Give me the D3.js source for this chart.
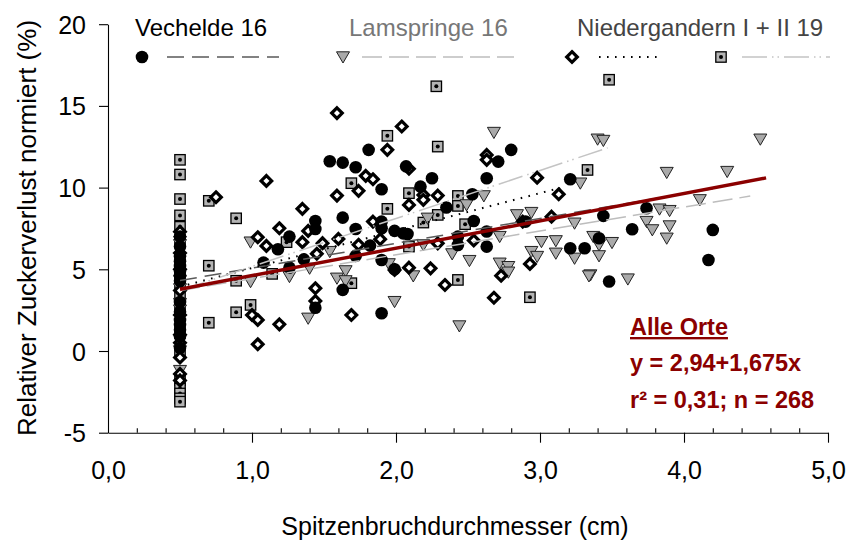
<!DOCTYPE html>
<html>
<head>
<meta charset="utf-8">
<script src="https://cdn.jsdelivr.net/npm/d3@7"></script>
<style>
  html, body { margin: 0; padding: 0; background: #fff; }
  svg { display: block; font-family: "Liberation Sans", Arial, sans-serif; }
</style>
</head>
<body>
<svg id="chart" width="853" height="542"></svg>
<script>
// Tip break diameter (cm) vs. normalised relative sugar loss (%), per site

// Vechelde 16 (filled circles)
const vechelde = [
  [0.5,7.0],[0.5,6.4],[0.5,5.8],[0.5,5.5],[0.5,5.2],[0.5,4.9],[0.5,4.6],[0.5,4.3],
  [0.5,3.0],[0.5,2.4],[0.5,1.9],[0.5,1.6],[0.5,1.3],[0.5,0.9],[0.5,0.2],
  [1.81,12.31],[1.54,11.61],[1.63,11.53],[1.72,11.25],[1.90,9.9],[1.63,8.16],[1.44,7.96],
  [1.44,7.47],[1.72,7.47],[1.90,7.92],[1.90,7.51],[1.99,7.35],[1.26,7.0],[1.18,6.23],
  [2.07,11.3],[2.05,7.2],
  [2.80,12.31],[2.71,11.59],[2.63,10.57],[2.25,10.57],[2.17,10.06],[3.21,10.51],[2.53,9.59],
  [2.35,8.78],[2.54,7.96],[2.63,7.31],[2.90,7.92],[2.08,7.16],[2.43,7.0],[2.43,6.49],
  [2.63,6.39],[3.21,6.29],[3.31,6.29],
  [3.44,8.27],[3.74,8.74],[3.64,7.45],[3.41,6.9],[4.20,7.41],[4.17,5.57],[3.48,4.25],
  [1.08,5.41],[1.26,5.1],[1.36,5.61],[1.72,5.82],[1.82,6.45],[1.90,5.57],[1.99,5.0],
  [1.63,3.74],[1.44,2.65],[1.90,2.31]
];

// Lamspringe 16 (grey down-triangles)
const lamspringe = [
  [0.5,6.7],[0.5,6.5],[0.5,4.3],[0.5,3.8],[0.5,2.9],[0.5,2.5],[0.5,0.0],[0.5,-1.2],
  [0.99,6.66],[2.68,13.37],[3.40,12.96],[3.44,12.88],[4.53,12.96],[3.28,10.27],[2.61,9.49],
  [2.49,8.94],[2.22,8.12],[2.84,8.33],[2.94,8.47],[3.24,7.82],[2.72,7.0],[2.19,6.49],
  [3.01,6.69],[3.11,6.74],[3.37,7.0],
  [3.88,10.92],[4.30,10.98],[4.11,9.25],[3.83,8.68],[3.90,8.59],[3.74,7.92],[3.90,7.65],
  [3.78,7.41],[3.88,6.9],[3.41,6.49],[3.50,6.63],[3.41,5.82],[3.61,4.40],[3.35,4.65],
  [0.99,4.24],[1.26,4.55],[1.40,5.06],[1.59,4.45],[1.65,4.9],[1.65,4.29],[1.39,2.0],
  [1.95,5.33],[1.99,3.02],[1.54,6.08],
  [2.39,5.94],[2.51,5.53],[2.72,5.37],[2.78,5.16],[2.78,4.82],[2.12,4.59],[2.94,6.08],
  [2.98,5.78],[3.11,5.98],[3.24,5.67],[3.34,4.59],[2.44,1.53]
];

// Niedergandern I 19 (open diamonds)
const niedergandernI = [
  [0.5,7.3],[0.5,6.0],[0.5,5.0],[0.5,3.7],[0.5,2.2],[0.5,1.0],[0.5,0.5],[0.5,-0.4],
  [0.5,-1.4],[0.5,-1.8],
  [1.59,14.56],[2.04,13.74],[1.94,12.31],[1.79,10.72],[1.84,10.51],[1.74,9.8],[1.10,10.41],
  [0.75,9.41],[1.59,9.51],[1.35,8.7],[1.19,7.51],[1.39,7.35],[1.04,6.96],[1.10,6.43],
  [1.35,6.66],[1.60,6.86],[1.84,7.92],[1.89,6.84],[2.09,11.15],[2.09,8.94],[1.49,6.6],
  [1.74,6.5],
  [2.63,12.0],[2.63,11.7],[2.98,10.61],[2.19,9.55],[2.29,9.51],[2.19,9.25],[3.13,9.59],
  [3.08,8.22],[2.88,7.92],[2.29,6.59],[2.54,6.76],
  [1.44,3.84],[1.44,3.06],[1.0,2.2],[1.04,1.9],[1.19,1.63],[1.69,2.2],[1.04,0.41],
  [1.99,4.96],[2.09,5.1],[1.45,5.95],
  [2.24,5.06],[2.34,4.04],[2.73,4.61],[2.93,5.33],[2.68,3.26]
];

// Niedergandern II 19 (grey squares with centre dot)
const niedergandernII = [
  [0.5,11.7],[0.5,10.8],[0.5,9.3],[0.5,8.3],[0.5,7.6],[0.5,6.8],[0.5,4.5],[0.5,4.0],
  [0.5,3.4],[0.5,2.7],[0.5,1.1],[0.5,-0.1],[0.5,-1.8],[0.5,-2.3],[0.5,-2.6],[0.5,-2.9],
  [0.5,-3.1],
  [1.94,13.17],[1.69,10.27],[0.70,9.19],[0.89,8.12],[1.94,8.7],[1.24,6.66],[2.09,9.66],
  [2.28,16.2],[3.48,16.6],[2.29,12.51],[3.33,11.08],[2.43,9.49],[2.43,8.88],[2.29,8.33],
  [2.19,7.86],[2.48,7.76],[2.09,6.39],
  [0.70,5.22],[0.89,4.3],[1.14,4.72],[0.99,2.82],[0.89,2.37],[0.70,1.73],[1.69,4.15],
  [2.43,4.35],[2.93,3.29]
];

// Linear fits: intercept, slope and x range of each fitted line
const fitNames      = ["Vechelde 16", "Lamspringe 16", "Niedergandern I", "Niedergandern II", "Alle Orte"];
const fitIntercepts = [3.55, 2.97, 2.79, 2.23, 2.94];
const fitSlopes     = [1.52, 1.46, 2.29, 2.94, 1.675];
const fitXStart     = [0.5, 0.5, 0.5, 0.5, 0.5];
const fitXEnd       = [4.2, 4.46, 3.14, 3.47, 4.57];

// Axis ticks
const xMajorTicks = [0, 1, 2, 3, 4, 5];
const yMajorTicks = [-5, 0, 5, 10, 15, 20];

// Regression annotation
const annoTitle = "Alle Orte";
const annoLines = ["y = 2,94+1,675x", "r\u00B2 = 0,31; n = 268"];

const svg = d3.select("#chart");
const x = d3.scaleLinear().domain([0, 5]).range([108, 828]);
const y = d3.scaleLinear().domain([-5, 20]).range([432.7, 24.2]);

const de = d3.formatLocale({decimal: ",", thousands: ".", grouping: [3], currency: ["", "\u20AC"]});
const fmt1 = de.format(".1f");

const darkRed = "#8b0000";

// ---- axes ----
const xAxisG = svg.append("g").attr("transform", `translate(0,${y(-5)})`);
xAxisG.call(d3.axisBottom(x).tickValues(xMajorTicks).tickFormat(fmt1)
  .tickSize(10).tickSizeOuter(0).tickPadding(19));

const minorX = d3.range(1, 25).map(i => i * 0.2).filter(v => Math.abs(v - Math.round(v)) > 1e-6);
svg.append("g").attr("transform", `translate(0,${y(-5)})`)
  .call(d3.axisBottom(x).tickValues(minorX).tickFormat("").tickSize(-4.5).tickSizeOuter(0))
  .call(g => g.select(".domain").remove());

const yAxisG = svg.append("g").attr("transform", `translate(${x(0)},0)`);
yAxisG.call(d3.axisLeft(y).tickValues(yMajorTicks).tickFormat(d => String(d))
  .tickSize(9).tickSizeOuter(0).tickPadding(13));

// no downward tick at the origin
xAxisG.selectAll(".tick").filter(d => d === 0).select("line").remove();

svg.selectAll(".tick text").attr("font-family", "Liberation Sans, Arial, sans-serif")
  .attr("font-size", 25).attr("fill", "#000");
yAxisG.selectAll(".tick text").attr("dy", "0.36em");
svg.selectAll(".domain, .tick line").attr("stroke", "#000").attr("stroke-width", 1.1);

// axis titles
svg.append("text")
  .attr("transform", "translate(36,228) rotate(-90)")
  .attr("text-anchor", "middle").attr("font-size", 26).attr("fill", "#000")
  .text("Relativer Zuckerverlust normiert (%)");
svg.append("text")
  .attr("x", 455).attr("y", 535)
  .attr("text-anchor", "middle").attr("font-size", 25).attr("fill", "#000")
  .text("Spitzenbruchdurchmesser (cm)");

// ---- marker painters ----
function drawCircle(g, cx, cy) {
  g.append("circle").attr("cx", cx).attr("cy", cy).attr("r", 6.3).attr("fill", "#000");
}
function drawTriangle(g, cx, cy) {
  g.append("path")
    .attr("d", `M${cx - 6.5},${cy - 5.2}L${cx + 6.5},${cy - 5.2}L${cx},${cy + 6}Z`)
    .attr("fill", "#aaaaaa").attr("stroke", "#222").attr("stroke-width", 1);
}
function drawDiamond(g, cx, cy) {
  g.append("path")
    .attr("d", `M${cx},${cy - 5.3}L${cx + 5.3},${cy}L${cx},${cy + 5.3}L${cx - 5.3},${cy}Z`)
    .attr("fill", "#fff").attr("stroke", "#000").attr("stroke-width", 3.2)
    .attr("stroke-linejoin", "miter");
}
function drawSquare(g, cx, cy) {
  g.append("rect").attr("x", cx - 5.2).attr("y", cy - 5.2).attr("width", 10.4).attr("height", 10.4)
    .attr("fill", "#b4b4b4").attr("stroke", "#000").attr("stroke-width", 1.3);
  g.append("circle").attr("cx", cx).attr("cy", cy).attr("r", 2).attr("fill", "#000");
}

// ---- points ----
const pts = svg.append("g");
niedergandernII.forEach(d => drawSquare(pts, x(d[0]), y(d[1])));
lamspringe.forEach(d => drawTriangle(pts, x(d[0]), y(d[1])));
niedergandernI.forEach(d => drawDiamond(pts, x(d[0]), y(d[1])));
vechelde.forEach(d => drawCircle(pts, x(d[0]), y(d[1])));

// ---- fitted lines ----
const lineStyles = [
  {stroke: "#5a5a5a", width: 1.5, dash: "17,8"},
  {stroke: "#bdbdbd", width: 1.5, dash: "20,7"},
  {stroke: "#000",    width: 2,   dash: "1.6,6.4"},
  {stroke: "#c4c4c4", width: 1.5, dash: "25,5,1.5,4,1.5,5"},
  {stroke: darkRed,   width: 3.4, dash: null}
];
const fitG = svg.append("g");
fitNames.forEach((name, i) => {
  const xs = [fitXStart[i], fitXEnd[i]];
  const line = d3.line().x(v => x(v)).y(v => y(fitIntercepts[i] + fitSlopes[i] * v));
  const p = fitG.append("path").attr("d", line(xs))
    .attr("fill", "none").attr("stroke", lineStyles[i].stroke)
    .attr("stroke-width", lineStyles[i].width);
  if (lineStyles[i].dash) p.attr("stroke-dasharray", lineStyles[i].dash);
});

// ---- legend ----
const leg = svg.append("g").attr("font-size", 24);
leg.append("text").attr("x", 135).attr("y", 35.5).attr("fill", "#000").text("Vechelde 16");
leg.append("text").attr("x", 349).attr("y", 35.5).attr("fill", "#777").text("Lamspringe 16");
leg.append("text").attr("x", 577).attr("y", 35.5).attr("fill", "#444").text("Niedergandern I + II 19");

drawCircle(leg, 142, 57);
drawTriangle(leg, 343, 57);
drawDiamond(leg, 572, 57);
drawSquare(leg, 721, 57);

const legLines = [[167, 279, 0], [362, 514, 1], [599, 660, 2], [742, 830, 3]];
legLines.forEach(([x0, x1, k]) => {
  leg.append("line").attr("x1", x0).attr("x2", x1).attr("y1", 57).attr("y2", 57)
    .attr("stroke", lineStyles[k].stroke)
    .attr("stroke-width", k === 2 ? 2 : 1.5)
    .attr("stroke-dasharray", lineStyles[k].dash);
});

// ---- annotation ----
const anno = svg.append("g").attr("font-size", 23.5).attr("font-weight", "bold").attr("fill", darkRed);
anno.append("text").attr("x", 630).attr("y", 335).attr("text-decoration", "underline").text(annoTitle);
anno.append("text").attr("x", 630).attr("y", 371).text(annoLines[0]);
anno.append("text").attr("x", 630).attr("y", 408).text(annoLines[1]);
</script>
</body>
</html>
